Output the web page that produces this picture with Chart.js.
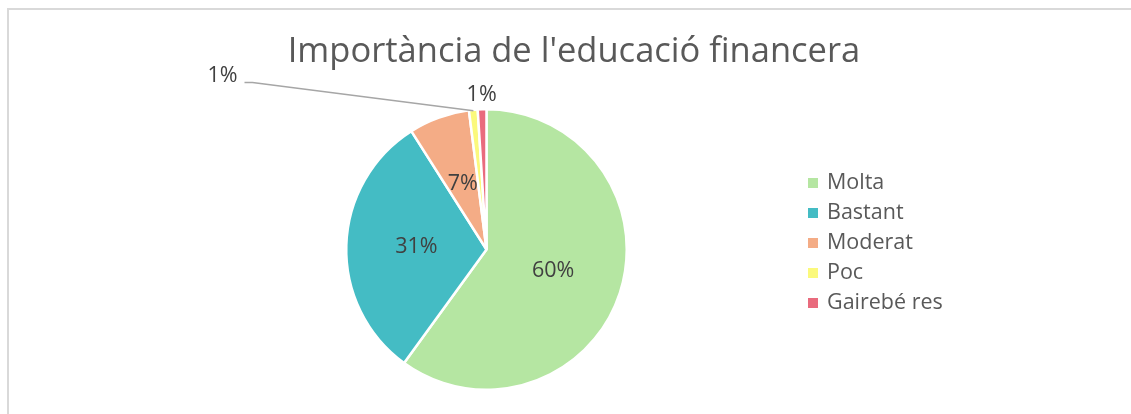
<!DOCTYPE html>
<html>
<head>
<meta charset="utf-8">
<script src="https://cdn.jsdelivr.net/npm/chart.js@4"></script>
<style>
  html, body { margin: 0; padding: 0; background: #fff; }
  #wrap { position: relative; width: 1131px; height: 414px; overflow: hidden; font-family: "Open Sans", "Noto Sans", sans-serif; }
  #frame { position: absolute; left: 7px; top: 8px; width: 1130px; height: 420px; border-left: 2px solid #d9d9d9; border-top: 2px solid #d9d9d9; }
  #title { position: absolute; left: 0; top: 29px; width: 1148px; text-align: center; font-size: 34.5px; line-height: 40px; color: #595959; white-space: nowrap; }
  #legend { position: absolute; left: 808px; top: 168px; font-size: 21.5px; color: #595959; }
  #legend div { height: 30px; line-height: 26px; white-space: nowrap; }
  #legend span { display: inline-block; width: 10px; height: 10px; margin-right: 9px; vertical-align: 1px; }
  canvas { position: absolute; left: 0; top: 0; }
</style>
</head>
<body>
<div id="wrap">
  <div id="frame"></div>
  <canvas id="pieChart" width="1131" height="414"></canvas>
  <div id="title">Importància de l'educació financera</div>
  <div id="legend"></div>
</div>
<script>
// Chart data
const categories = ["Molta", "Bastant", "Moderat", "Poc", "Gairebé res"]
const values = [60, 31, 7, 1, 1]
const sliceColors = ["#b5e6a2", "#44bcc4", "#f4ac86", "#fbf97c", "#e96b7d"]

// Labels that sit outside the pie (index -> placement relative to pie centre)
const outsideLabels = {
  3: { dx: -249, dy: -174, leader: true },
  4: { radiusExtra: 14 },
}

// Build the HTML legend
const legend = document.getElementById("legend")
categories.forEach((name, i) => {
  const row = document.createElement("div")
  row.innerHTML = '<span style="background:' + sliceColors[i] + '"></span>' + name
  legend.appendChild(row)
})

// Draws the percentage labels on the slices
const pieLabels = {
  id: "pieLabels",
  afterDatasetsDraw(chart) {
    const ctx = chart.ctx
    const meta = chart.getDatasetMeta(0)
    const data = chart.data.datasets[0].data
    const total = data.reduce((a, b) => a + b, 0)
    ctx.save()
    ctx.font = '21.5px "Open Sans", "Noto Sans", sans-serif'
    ctx.fillStyle = "#404040"
    ctx.textBaseline = "middle"
    meta.data.forEach((arc, i) => {
      const p = arc.getProps(["x", "y", "startAngle", "endAngle", "outerRadius"], true)
      const text = Math.round((data[i] / total) * 100) + "%"
      const mid = (p.startAngle + p.endAngle) / 2
      const out = outsideLabels[i]
      if (!out) {
        const pos = arc.tooltipPosition(true)
        ctx.textAlign = "center"
        ctx.fillText(text, pos.x, pos.y)
      } else if (out.leader) {
        const lx = p.x + out.dx
        const ly = p.y + out.dy
        ctx.textAlign = "right"
        ctx.fillText(text, lx, ly)
        ctx.strokeStyle = "#a6a6a6"
        ctx.lineWidth = 1.5
        ctx.beginPath()
        ctx.moveTo(lx + 7, ly + 7)
        ctx.lineTo(lx + 15, ly + 7)
        ctx.lineTo(p.x + Math.cos(mid) * (p.outerRadius - 1), p.y + Math.sin(mid) * (p.outerRadius - 1))
        ctx.stroke()
      } else {
        const r = p.outerRadius + out.radiusExtra
        ctx.textAlign = "center"
        ctx.fillText(text, p.x + Math.cos(mid) * r, p.y + Math.sin(mid) * r)
      }
    })
    ctx.restore()
  },
}

new Chart(document.getElementById("pieChart"), {
  type: "pie",
  data: {
    labels: categories,
    datasets: [
      {
        data: values,
        backgroundColor: sliceColors,
        borderColor: "#ffffff",
        borderWidth: 2.5,
      },
    ],
  },
  options: {
    responsive: false,
    animation: false,
    layout: { padding: { left: 345, right: 503, top: 108, bottom: 23 } },
    plugins: {
      legend: { display: false },
      title: { display: false },
      tooltip: { enabled: false },
    },
  },
  plugins: [pieLabels],
})
</script>
</body>
</html>
